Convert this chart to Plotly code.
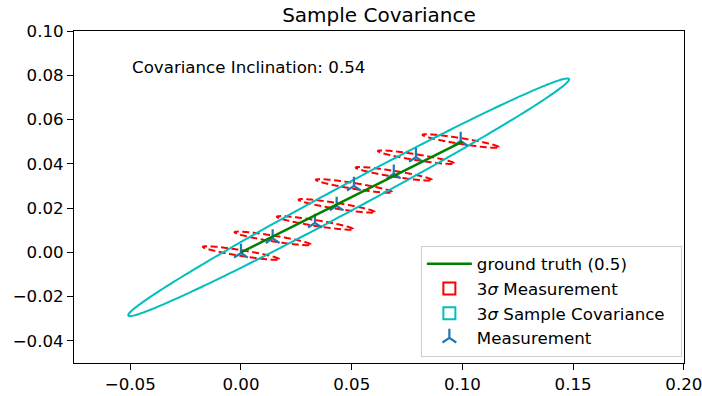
import numpy as np
import plotly.graph_objects as go

# ---- data ----
meas_x = [0.0, 0.0143, 0.0334, 0.0432, 0.0510, 0.0690, 0.0790, 0.0992]
meas_y = [-0.0003, 0.0063, 0.0133, 0.0210, 0.0300, 0.0355, 0.0430, 0.0503]
truth_x = [0.0, 0.1]
truth_y = [0.0, 0.05]
# 3-sigma measurement ellipse (semi-major, semi-minor, angle in degrees)
meas_ell = [0.0174, 0.0013, -9.2]
inclination_text = "Covariance Inclination: 0.54"
x_ticks = [-0.05, 0.0, 0.05, 0.10, 0.15, 0.20]
y_ticks = [-0.04, -0.02, 0.0, 0.02, 0.04, 0.06, 0.08, 0.10]

FONT = "DejaVu Sans"
t = np.linspace(0, 2 * np.pi, 241)[:-1]
RED = dict(color="#ff0000", width=2, dash="7px,3.5px")
CYAN = dict(color="#00bfbf", width=2)


def to_path(px, py):
    return "M" + "L".join(f"{u:.6f},{v:.6f}" for u, v in zip(px, py)) + "Z"


fig = go.Figure()

# measurement ellipses as shapes (data coordinates)
a, b, ang = meas_ell
th = np.deg2rad(ang)
for cx, cy in zip(meas_x, meas_y):
    px = cx + a * np.cos(t) * np.cos(th) - b * np.sin(t) * np.sin(th)
    py = cy + a * np.cos(t) * np.sin(th) + b * np.sin(t) * np.cos(th)
    fig.add_shape(type="path", path=to_path(px, py), xref="x", yref="y",
                  line=RED, layer="below", showlegend=False)

# sample covariance ellipse (3 sigma)
mx, my = np.mean(meas_x), np.mean(meas_y)
cov = np.cov(np.vstack([meas_x, meas_y]))
vals, vecs = np.linalg.eigh(cov)
circ = np.vstack([np.cos(t), np.sin(t)])
pts = vecs @ (3 * np.sqrt(vals)[:, None] * circ)
fig.add_shape(type="path", path=to_path(mx + pts[0], my + pts[1]), xref="x", yref="y",
              line=CYAN, layer="below", showlegend=False)

# zero-size rectangles that only provide rectangle legend icons
fig.add_shape(type="rect", xref="x", yref="y", x0=mx, x1=mx, y0=my, y1=my,
              line=RED, layer="below", showlegend=True,
              name="3<i>σ</i> Measurement", legendrank=2)
fig.add_shape(type="rect", xref="x", yref="y", x0=mx, x1=mx, y0=my, y1=my,
              line=CYAN, layer="below", showlegend=True,
              name="3<i>σ</i> Sample Covariance\u00a0\u00a0", legendrank=3)

# measurements
fig.add_trace(go.Scatter(x=meas_x, y=meas_y, mode="markers", name="Measurement",
                         marker=dict(symbol="y-up", size=11.5, color="#1f77b4",
                                     line=dict(color="#1f77b4", width=2.2)),
                         legendrank=4))

# ground truth
fig.add_trace(go.Scatter(x=truth_x, y=truth_y, mode="lines", name="ground truth (0.5)",
                         line=dict(color="#008000", width=2.5),
                         legendrank=1))

fig.add_annotation(x=-0.05, y=0.08, xref="x", yref="y", text=inclination_text,
                   showarrow=False, xanchor="left", yanchor="bottom", yshift=-4,
                   font=dict(family=FONT, size=16.67, color="black"))

axis_common = dict(showline=True, mirror=True, linecolor="black", linewidth=1.33,
                   ticks="outside", ticklen=5.8, tickwidth=1.33, tickcolor="black",
                   showgrid=False, zeroline=False, automargin=False,
                   ticklabeloverflow="allow",
                   tickfont=dict(family=FONT, size=16.67, color="black"))

fig.update_layout(
    width=702, height=396,
    margin=dict(l=74, r=18, t=31, b=33),
    paper_bgcolor="white", plot_bgcolor="white",
    title=dict(text="Sample Covariance", x=0.5, xref="paper", xanchor="center",
               y=1 - 15 / 396, yref="container", yanchor="middle",
               font=dict(family=FONT, size=20, color="black")),
    xaxis=dict(range=[-0.0754, 0.20005], tickvals=x_ticks, tickformat=".2f", **axis_common),
    yaxis=dict(range=[-0.05, 0.1], tickvals=y_ticks, tickformat=".2f", **axis_common),
    legend=dict(x=0.9965, y=0.0195, xanchor="right", yanchor="bottom",
                bgcolor="rgba(255,255,255,0.8)", bordercolor="#cccccc", borderwidth=1,
                font=dict(family=FONT, size=16.67, color="black"),
                tracegroupgap=0, itemwidth=45),
    showlegend=True,
)

fig.write_html("out.html")
